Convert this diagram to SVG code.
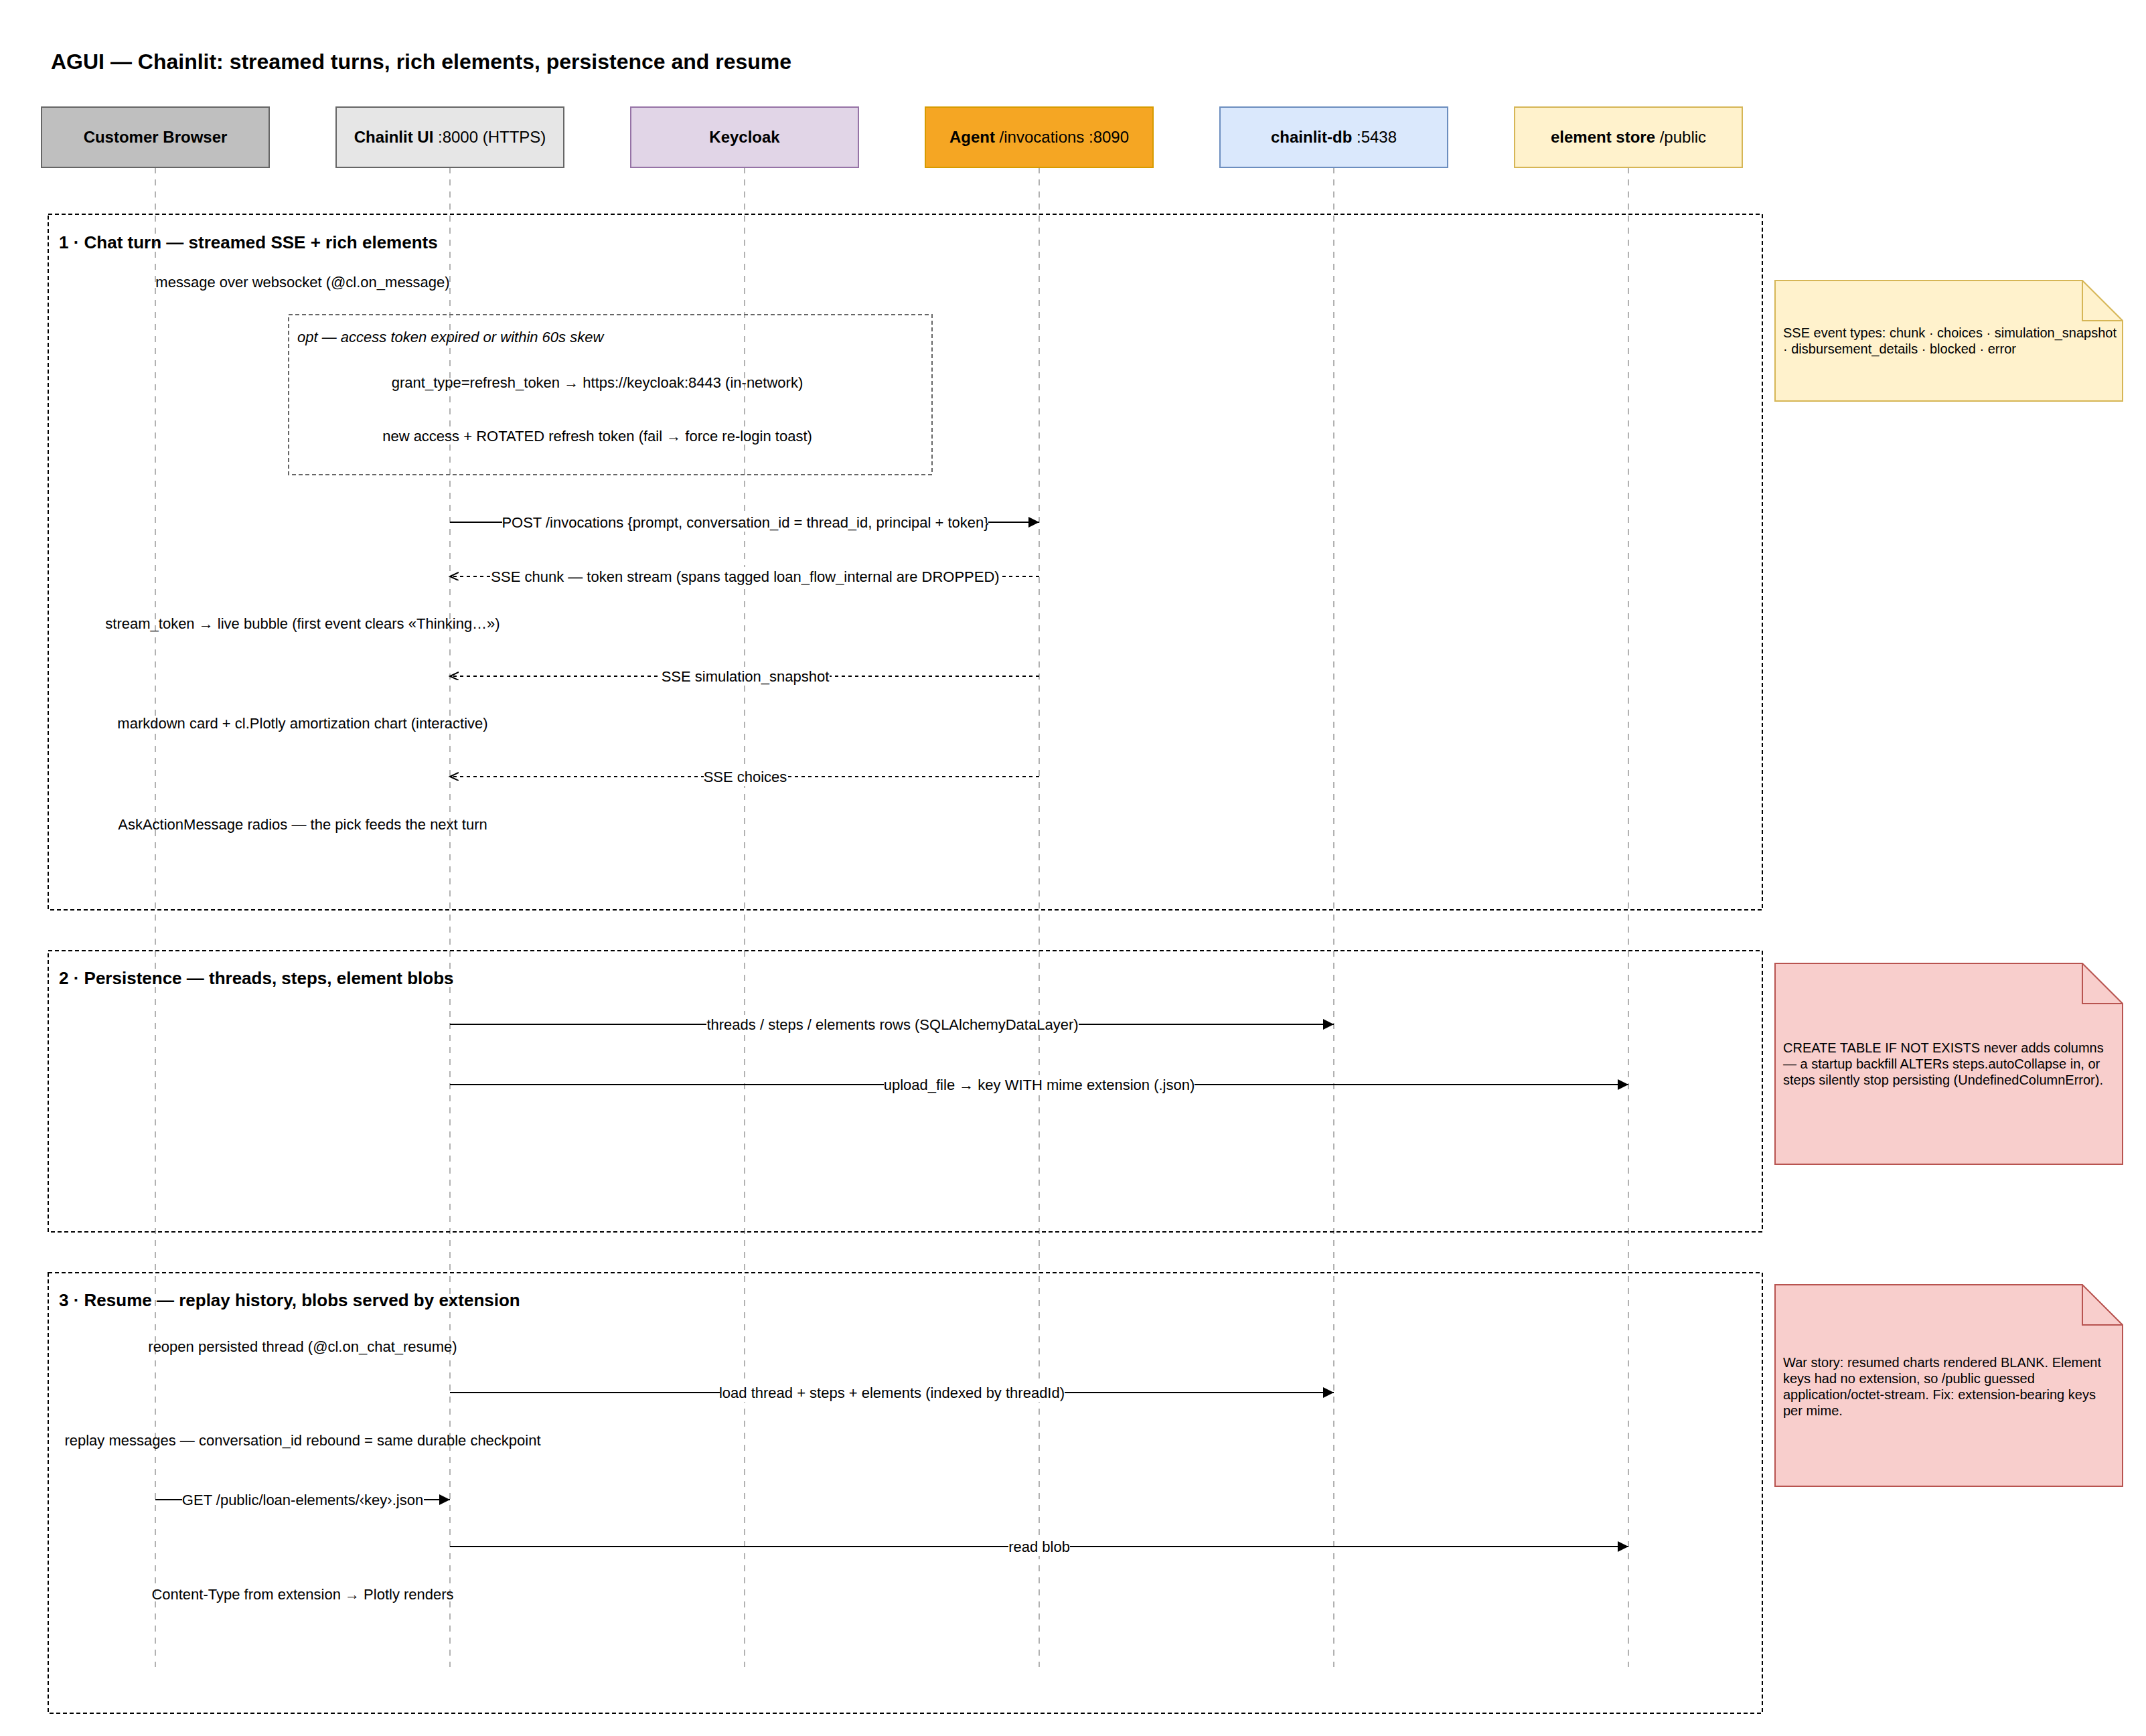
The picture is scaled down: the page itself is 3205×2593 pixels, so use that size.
<svg xmlns="http://www.w3.org/2000/svg" width="3205" height="2593" viewBox="0 0 3205 2593">
<defs>
<marker id="solid" markerUnits="userSpaceOnUse" markerWidth="18" markerHeight="16" refX="16" refY="8" orient="auto">
<path d="M0,0 L16,8 L0,16 z" fill="#000"/>
</marker>
<marker id="open" markerUnits="userSpaceOnUse" markerWidth="16" markerHeight="14" refX="13" refY="6" orient="auto">
<path d="M0,0 L13,6 L0,12" fill="none" stroke="#000" stroke-width="2"/>
</marker>
<style>
text{font-family:"Liberation Sans",Arial,Helvetica,sans-serif;fill:#000}
.title{font-size:32px;font-weight:bold}
.plab{font-size:24px;text-anchor:middle}
.b{font-weight:bold}
.sec{font-size:26px;font-weight:bold}
.msg{font-size:22px}
.mid{text-anchor:middle}
.note{font-size:20px}
.life{stroke:#999;stroke-width:1.5;stroke-dasharray:9 9;fill:none}
.frame{fill:none;stroke:#000;stroke-width:2;stroke-dasharray:6 4}
.opt{fill:none;stroke:#666;stroke-width:2;stroke-dasharray:6 4}
.arr{stroke:#000;stroke-width:2;fill:none;marker-end:url(#solid)}
.ret{stroke:#000;stroke-width:2;fill:none;stroke-dasharray:5 5;marker-end:url(#open)}
.bg{fill:#fff}
</style>
</defs>
<rect width="3205" height="2593" fill="#fff"/>
<text class="title" x="76" y="103">AGUI — Chainlit: streamed turns, rich elements, persistence and resume</text>

<g id="lifelines">
<line class="life" x1="232" y1="250" x2="232" y2="2490"/>
<line class="life" x1="672" y1="250" x2="672" y2="2490"/>
<line class="life" x1="1112" y1="250" x2="1112" y2="2490"/>
<line class="life" x1="1552" y1="250" x2="1552" y2="2490"/>
<line class="life" x1="1992" y1="250" x2="1992" y2="2490"/>
<line class="life" x1="2432" y1="250" x2="2432" y2="2490"/>
</g>

<g id="p-browser"><rect x="62" y="160" width="340" height="90" fill="#bfbfbf" stroke="#666" stroke-width="2"/><text class="plab b" x="232" y="213">Customer Browser</text></g>
<g id="p-chainlit"><rect x="502" y="160" width="340" height="90" fill="#e6e6e6" stroke="#666" stroke-width="2"/><text class="plab" x="672" y="213"><tspan class="b">Chainlit UI</tspan> :8000 (HTTPS)</text></g>
<g id="p-keycloak"><rect x="942" y="160" width="340" height="90" fill="#e1d5e7" stroke="#9673a6" stroke-width="2"/><text class="plab b" x="1112" y="213">Keycloak</text></g>
<g id="p-agent"><rect x="1382" y="160" width="340" height="90" fill="#f5a623" stroke="#d79b00" stroke-width="2"/><text class="plab" x="1552" y="213"><tspan class="b">Agent</tspan> /invocations :8090</text></g>
<g id="p-db"><rect x="1822" y="160" width="340" height="90" fill="#dae8fc" stroke="#6c8ebf" stroke-width="2"/><text class="plab" x="1992" y="213"><tspan class="b">chainlit-db</tspan> :5438</text></g>
<g id="p-store"><rect x="2262" y="160" width="340" height="90" fill="#fff2cc" stroke="#d6b656" stroke-width="2"/><text class="plab" x="2432" y="213"><tspan class="b">element store</tspan> /public</text></g>

<g id="sec1"><rect class="frame" x="72" y="320" width="2560" height="1039"/><text class="sec" x="88" y="371">1 · Chat turn — streamed SSE + rich elements</text></g>
<g id="sec2"><rect class="frame" x="72" y="1420" width="2560" height="420"/><text class="sec" x="88" y="1470">2 · Persistence — threads, steps, element blobs</text></g>
<g id="sec3"><rect class="frame" x="72" y="1901" width="2560" height="658"/><text class="sec" x="88" y="1951">3 · Resume — replay history, blobs served by extension</text></g>

<g id="opt"><rect class="opt" x="431" y="470" width="961" height="239"/><text class="msg" x="444" y="511" font-style="italic">opt — access token expired or within 60s skew</text></g>

<g id="connectors">
<line class="arr" x1="672" y1="780" x2="1552" y2="780"/>
<line class="ret" x1="1552" y1="861" x2="672" y2="861"/>
<line class="ret" x1="1552" y1="1010" x2="672" y2="1010"/>
<line class="ret" x1="1552" y1="1160" x2="672" y2="1160"/>
<line class="arr" x1="672" y1="1530" x2="1992" y2="1530"/>
<line class="arr" x1="672" y1="1620" x2="2432" y2="1620"/>
<line class="arr" x1="672" y1="2080" x2="1992" y2="2080"/>
<line class="arr" x1="232" y1="2240" x2="672" y2="2240"/>
<line class="arr" x1="672" y1="2310" x2="2432" y2="2310"/>
</g>

<g id="labels">
<text class="msg mid" x="452" y="429">message over websocket (@cl.on_message)</text>
<text class="msg mid" x="892" y="579">grant_type=refresh_token → https://keycloak:8443 (in-network)</text>
<text class="msg mid" x="892" y="659">new access + ROTATED refresh token (fail → force re-login toast)</text>
<rect class="bg" x="750" y="766" width="726" height="28"/>
<text class="msg mid" x="1113" y="788">POST /invocations {prompt, conversation_id = thread_id, principal + token}</text>
<rect class="bg" x="732" y="847" width="762" height="28"/>
<text class="msg mid" x="1113" y="869">SSE chunk — token stream (spans tagged loan_flow_internal are DROPPED)</text>
<text class="msg mid" x="452" y="939">stream_token → live bubble (first event clears «Thinking…»)</text>
<rect class="bg" x="987" y="996" width="252" height="28"/>
<text class="msg mid" x="1113" y="1018">SSE simulation_snapshot</text>
<text class="msg mid" x="452" y="1088">markdown card + cl.Plotly amortization chart (interactive)</text>
<rect class="bg" x="1051" y="1146" width="124" height="28"/>
<text class="msg mid" x="1113" y="1168">SSE choices</text>
<text class="msg mid" x="452" y="1239">AskActionMessage radios — the pick feeds the next turn</text>
<rect class="bg" x="1055" y="1516" width="556" height="28"/>
<text class="msg mid" x="1333" y="1538">threads / steps / elements rows (SQLAlchemyDataLayer)</text>
<rect class="bg" x="1320" y="1606" width="464" height="28"/>
<text class="msg mid" x="1552" y="1628">upload_file → key WITH mime extension (.json)</text>
<text class="msg mid" x="452" y="2019">reopen persisted thread (@cl.on_chat_resume)</text>
<rect class="bg" x="1075" y="2066" width="515" height="28"/>
<text class="msg mid" x="1332" y="2088">load thread + steps + elements (indexed by threadId)</text>
<text class="msg mid" x="452" y="2159">replay messages — conversation_id rebound = same durable checkpoint</text>
<rect class="bg" x="272" y="2226" width="361" height="28"/>
<text class="msg mid" x="452" y="2248">GET /public/loan-elements/‹key›.json</text>
<rect class="bg" x="1506" y="2296" width="92" height="28"/>
<text class="msg mid" x="1552" y="2318">read blob</text>
<text class="msg mid" x="452" y="2389">Content-Type from extension → Plotly renders</text>
</g>

<g id="note1"><path d="M2651,419 H3110 L3170,479 V599 H2651 Z" fill="#fff2cc" stroke="#d6b656" stroke-width="2"/><path d="M3110,419 V479 H3170" fill="none" stroke="#d6b656" stroke-width="2"/>
<text class="note" x="2663" y="504">SSE event types: chunk · choices · simulation_snapshot</text>
<text class="note" x="2663" y="528">· disbursement_details · blocked · error</text></g>
<g id="note2"><path d="M2651,1439 H3110 L3170,1499 V1739 H2651 Z" fill="#f8cecc" stroke="#b85450" stroke-width="2"/><path d="M3110,1439 V1499 H3170" fill="none" stroke="#b85450" stroke-width="2"/>
<text class="note" x="2663" y="1572">CREATE TABLE IF NOT EXISTS never adds columns</text>
<text class="note" x="2663" y="1596">— a startup backfill ALTERs steps.autoCollapse in, or</text>
<text class="note" x="2663" y="1620">steps silently stop persisting (UndefinedColumnError).</text></g>
<g id="note3"><path d="M2651,1919 H3110 L3170,1979 V2220 H2651 Z" fill="#f8cecc" stroke="#b85450" stroke-width="2"/><path d="M3110,1919 V1979 H3170" fill="none" stroke="#b85450" stroke-width="2"/>
<text class="note" x="2663" y="2042">War story: resumed charts rendered BLANK. Element</text>
<text class="note" x="2663" y="2066">keys had no extension, so /public guessed</text>
<text class="note" x="2663" y="2090">application/octet-stream. Fix: extension-bearing keys</text>
<text class="note" x="2663" y="2114">per mime.</text></g>
</svg>
